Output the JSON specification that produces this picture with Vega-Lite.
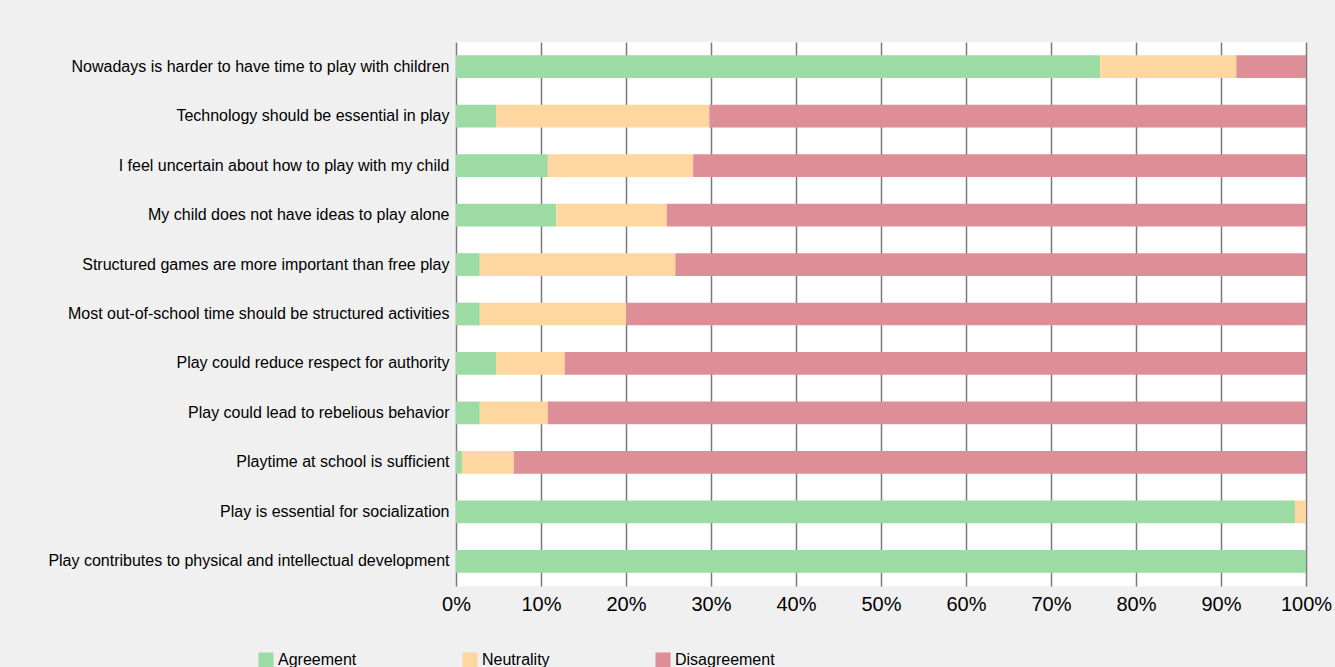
{
  "$schema": "https://vega.github.io/schema/vega-lite/v6.json",
  "width": 850,
  "height": 544,
  "autosize": {"type": "none"},
  "padding": {"left": 456, "top": 42, "right": 29, "bottom": 81},
  "background": "#f0f0f0",
  "config": {
    "view": {"fill": "white", "stroke": null},
    "font": "Liberation Sans"
  },
  "data": {
    "values": [
      {"statement": "Nowadays is harder to have time to play with children", "response": "Agreement", "o": 1, "pct": 75.8},
      {"statement": "Nowadays is harder to have time to play with children", "response": "Neutrality", "o": 2, "pct": 16.0},
      {"statement": "Nowadays is harder to have time to play with children", "response": "Disagreement", "o": 3, "pct": 8.2},
      {"statement": "Technology should be essential in play", "response": "Agreement", "o": 1, "pct": 4.7},
      {"statement": "Technology should be essential in play", "response": "Neutrality", "o": 2, "pct": 25.1},
      {"statement": "Technology should be essential in play", "response": "Disagreement", "o": 3, "pct": 70.2},
      {"statement": "I feel uncertain about how to play with my child", "response": "Agreement", "o": 1, "pct": 10.8},
      {"statement": "I feel uncertain about how to play with my child", "response": "Neutrality", "o": 2, "pct": 17.1},
      {"statement": "I feel uncertain about how to play with my child", "response": "Disagreement", "o": 3, "pct": 72.1},
      {"statement": "My child does not have ideas to play alone", "response": "Agreement", "o": 1, "pct": 11.8},
      {"statement": "My child does not have ideas to play alone", "response": "Neutrality", "o": 2, "pct": 13.0},
      {"statement": "My child does not have ideas to play alone", "response": "Disagreement", "o": 3, "pct": 75.2},
      {"statement": "Structured games are more important than free play", "response": "Agreement", "o": 1, "pct": 2.8},
      {"statement": "Structured games are more important than free play", "response": "Neutrality", "o": 2, "pct": 23.0},
      {"statement": "Structured games are more important than free play", "response": "Disagreement", "o": 3, "pct": 74.2},
      {"statement": "Most out-of-school time should be structured activities", "response": "Agreement", "o": 1, "pct": 2.8},
      {"statement": "Most out-of-school time should be structured activities", "response": "Neutrality", "o": 2, "pct": 17.2},
      {"statement": "Most out-of-school time should be structured activities", "response": "Disagreement", "o": 3, "pct": 80.0},
      {"statement": "Play could reduce respect for authority", "response": "Agreement", "o": 1, "pct": 4.7},
      {"statement": "Play could reduce respect for authority", "response": "Neutrality", "o": 2, "pct": 8.1},
      {"statement": "Play could reduce respect for authority", "response": "Disagreement", "o": 3, "pct": 87.2},
      {"statement": "Play could lead to rebelious behavior", "response": "Agreement", "o": 1, "pct": 2.8},
      {"statement": "Play could lead to rebelious behavior", "response": "Neutrality", "o": 2, "pct": 8.0},
      {"statement": "Play could lead to rebelious behavior", "response": "Disagreement", "o": 3, "pct": 89.2},
      {"statement": "Playtime at school is sufficient", "response": "Agreement", "o": 1, "pct": 0.7},
      {"statement": "Playtime at school is sufficient", "response": "Neutrality", "o": 2, "pct": 6.1},
      {"statement": "Playtime at school is sufficient", "response": "Disagreement", "o": 3, "pct": 93.2},
      {"statement": "Play is essential for socialization", "response": "Agreement", "o": 1, "pct": 98.7},
      {"statement": "Play is essential for socialization", "response": "Neutrality", "o": 2, "pct": 1.3},
      {"statement": "Play is essential for socialization", "response": "Disagreement", "o": 3, "pct": 0},
      {"statement": "Play contributes to physical and intellectual development", "response": "Agreement", "o": 1, "pct": 100},
      {"statement": "Play contributes to physical and intellectual development", "response": "Neutrality", "o": 2, "pct": 0},
      {"statement": "Play contributes to physical and intellectual development", "response": "Disagreement", "o": 3, "pct": 0}
    ]
  },
  "mark": {"type": "bar"},
  "encoding": {
    "y": {
      "field": "statement",
      "type": "nominal",
      "sort": null,
      "scale": {"paddingInner": 0.54, "paddingOuter": 0.27},
      "axis": {
        "title": null,
        "ticks": false,
        "domain": false,
        "labelFontSize": 16,
        "labelColor": "#000000",
        "labelPadding": 7,
        "labelLimit": 500
      }
    },
    "x": {
      "field": "pct",
      "type": "quantitative",
      "stack": "zero",
      "scale": {"domain": [0, 100], "nice": false},
      "axis": {
        "title": null,
        "values": [0, 10, 20, 30, 40, 50, 60, 70, 80, 90, 100],
        "labelExpr": "datum.value + '%'",
        "labelFontSize": 20,
        "labelColor": "#000000",
        "labelPadding": 8,
        "labelFlush": false,
        "ticks": false,
        "domain": false,
        "grid": true,
        "gridColor": "#7a7a7a",
        "gridWidth": 1.5,
        "gridOpacity": 1
      }
    },
    "order": {"field": "o", "type": "quantitative"},
    "color": {
      "field": "response",
      "type": "nominal",
      "scale": {
        "domain": ["Agreement", "Neutrality", "Disagreement"],
        "range": ["#9cdba4", "#fed6a0", "#de8e96"]
      },
      "legend": {
        "title": null,
        "orient": "none",
        "direction": "horizontal",
        "legendX": -198,
        "legendY": 610,
        "symbolType": "square",
        "symbolSize": 225,
        "symbolStrokeWidth": 0,
        "labelFontSize": 16,
        "labelColor": "#000000",
        "labelOffset": 4,
        "columnPadding": 105
      }
    }
  }
}
